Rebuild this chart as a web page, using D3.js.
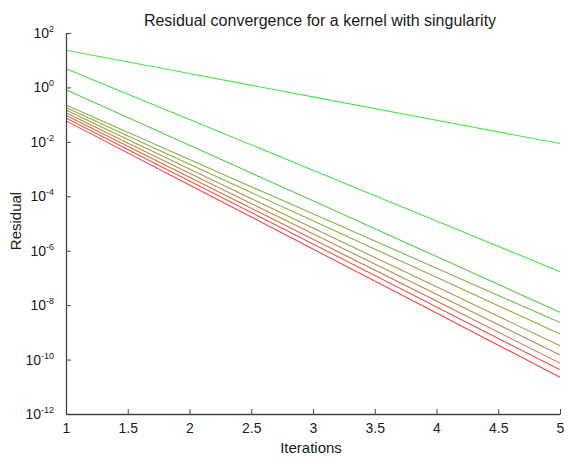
<!DOCTYPE html>
<html lang="en">
<head>
  <meta charset="UTF-8">
  <title>Residual convergence</title>
  <script src="https://d3js.org/d3.v7.min.js"></script>
  <style>
    body { margin: 0; background: #fff; }
    text { font-family: "Liberation Sans", Arial, sans-serif; fill: #1a1a1a; }
  </style>
</head>
<body>
<script>
  // Iterations on x
  const iterations = [1, 2, 3, 4, 5];

  // Residual per iteration, one array per curve
  const res1  = [23.2, 3.23, 0.449, 0.0625, 0.0087];
  const res2  = [4.9, 0.0668, 9.1e-4, 1.24e-5, 1.7e-7];
  const res3  = [0.83, 7.5e-3, 6.8e-5, 6.1e-7, 5.5e-9];
  const res4  = [0.224, 2.24e-3, 2.26e-5, 2.29e-7, 2.29e-9];
  const res5  = [0.182, 1.51e-3, 1.26e-5, 1.05e-7, 8.7e-10];
  const res6  = [0.148, 1.0e-3, 6.8e-6, 4.7e-8, 3.2e-10];
  const res7  = [0.117, 7.0e-4, 4.2e-6, 2.5e-8, 1.48e-10];
  const res8  = [0.095, 5.0e-4, 2.66e-6, 1.41e-8, 7.4e-11];
  const res9  = [0.076, 3.67e-4, 1.78e-6, 8.6e-9, 4.2e-11];
  const res10 = [0.059, 2.6e-4, 1.15e-6, 5.1e-9, 2.24e-11];

  const xTicks = [1, 1.5, 2, 2.5, 3, 3.5, 4, 4.5, 5];
  const yExponents = [2, 0, -2, -4, -6, -8, -10, -12];

  const series = [res1, res2, res3, res4, res5, res6, res7, res8, res9, res10];
  const colors = ["#44e844", "#44e044", "#52d04c", "#7cb84a", "#93a848", "#a89a48",
                  "#bb8848", "#cc7048", "#de5a4a", "#ee4646"];

  const width = 577, height = 464;
  const margin = { top: 33, right: 17, bottom: 50, left: 66 };

  const svg = d3.select("body").append("svg")
    .attr("width", width)
    .attr("height", height);

  const x = d3.scaleLinear()
    .domain([1, 5])
    .range([margin.left, width - margin.right]);

  const y = d3.scaleLog()
    .domain([1e-12, 1e2])
    .range([height - margin.bottom, margin.top]);

  // lines
  const line = d3.line()
    .x((d, i) => x(iterations[i]))
    .y(d => y(d));

  svg.append("g")
    .selectAll("path")
    .data(series)
    .join("path")
    .attr("d", line)
    .attr("fill", "none")
    .attr("stroke", (d, i) => colors[i])
    .attr("stroke-width", 1.1);

  // x axis
  const xAxis = svg.append("g")
    .attr("transform", `translate(0, ${height - margin.bottom})`)
    .call(d3.axisBottom(x).tickValues(xTicks).tickSizeInner(-5).tickSizeOuter(0)
      .tickFormat(d => String(d)));
  xAxis.select(".domain").attr("stroke", "#444").attr("stroke-width", 1.3);
  xAxis.selectAll(".tick line").attr("stroke", "#444");
  xAxis.selectAll(".tick text")
    .attr("y", 9)
    .attr("font-size", 14)
    .attr("font-family", "Liberation Sans, Arial, sans-serif")
    .attr("fill", "#1a1a1a");

  // y axis
  const yAxis = svg.append("g")
    .attr("transform", `translate(${margin.left}, 0)`)
    .call(d3.axisLeft(y).tickValues(yExponents.map(e => Math.pow(10, e)))
      .tickSizeInner(-5).tickSizeOuter(0).tickFormat(""));
  yAxis.select(".domain").attr("stroke", "#444").attr("stroke-width", 1.3);
  yAxis.selectAll(".tick line").attr("stroke", "#444");

  const yLab = svg.append("g");
  yExponents.forEach(e => {
    const t = yLab.append("text")
      .attr("x", 54)
      .attr("y", y(Math.pow(10, e)) + 5)
      .attr("text-anchor", "end")
      .attr("font-size", 14);
    t.append("tspan").text("10");
    t.append("tspan").attr("dy", -6).attr("font-size", 9).text(e);
  });

  // title and axis labels
  svg.append("text")
    .attr("x", 320).attr("y", 26)
    .attr("text-anchor", "middle")
    .attr("font-size", 16)
    .text("Residual convergence for a kernel with singularity");

  svg.append("text")
    .attr("x", 311).attr("y", 453)
    .attr("text-anchor", "middle")
    .attr("font-size", 15)
    .text("Iterations");

  svg.append("text")
    .attr("transform", "translate(21, 221) rotate(-90)")
    .attr("text-anchor", "middle")
    .attr("font-size", 15)
    .text("Residual");
</script>
</body>
</html>
